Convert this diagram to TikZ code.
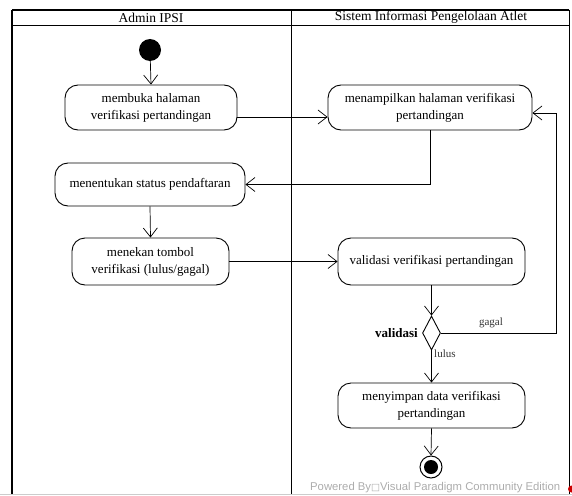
\documentclass[tikz,border=0pt]{standalone}
\usepackage{fontspec}
\setmainfont{Liberation Serif}
\newfontfamily\wmfont{Liberation Sans}
\newfontfamily\symfont{DejaVu Sans}
\usetikzlibrary{arrows.meta,shapes.geometric}

\begin{document}
\begin{tikzpicture}[x=1pt,y=-1pt,
  act/.style={draw,line width=0.9pt,rounded corners=13pt,align=center,
    font=\fontsize{13}{17}\selectfont,inner sep=0pt},
  flow/.style={draw,line width=0.7pt,
    -{Straight Barb[length=9pt,width=14pt,line width=0.7pt]}},
  lane/.style={line width=1.8pt},
  guard/.style={font=\fontsize{11}{11}\selectfont,text=black!80,inner sep=1pt},
]
\clip (0,0) rectangle (572,495);

% swimlane frame
\draw[lane] (12,10) -- (569,10);
\draw[lane] (12,10) -- (12,495);
\draw[lane] (12,25.5) -- (569,25.5);
\draw[lane] (291.5,10) -- (291.5,495);
\draw[line width=1pt] (569,10) -- (569,495);
\draw[gray!40,line width=0.8pt] (0,494) -- (572,494);

% lane titles
\node[font=\fontsize{13.5}{13.5}\selectfont] (laneA) at (151,17.5) {Admin IPSI};
\node[font=\fontsize{13.5}{13.5}\selectfont] (laneB) at (431,17.5) {Sistem Informasi Pengelolaan Atlet};

% initial and final nodes
\node[circle,fill=black,minimum size=22pt,inner sep=0pt] (start) at (150,50) {};
\node[circle,draw,line width=1pt,minimum size=22pt,inner sep=0pt,
  path picture={\fill (path picture bounding box.center) circle (7pt);}] (final) at (431,467) {};

% actions
\node[act,minimum width=172pt,minimum height=45pt] (membuka) at (151,107.5)
  {membuka halaman\\verifikasi pertandingan};
\node[act,minimum width=204pt,minimum height=45pt] (tampil) at (430,107.5)
  {menampilkan halaman verifikasi\\pertandingan};
\node[act,minimum width=190pt,minimum height=43pt] (tentukan) at (150,184.5)
  {menentukan status pendaftaran};
\node[act,minimum width=157pt,minimum height=47pt] (tekan) at (150.5,261.5)
  {menekan tombol\\verifikasi (lulus/gagal)};
\node[act,minimum width=187pt,minimum height=47pt] (validasi) at (431.5,261.5)
  {validasi verifikasi pertandingan};
\node[act,minimum width=187pt,minimum height=45pt] (simpan) at (431.5,405.5)
  {menyimpan data verifikasi\\pertandingan};

% decision
\node[diamond,draw,line width=0.9pt,aspect=0.5,minimum width=18pt,minimum height=34pt,
  inner sep=0pt] (dec) at (431.5,333) {};
\node[anchor=east,font=\bfseries\fontsize{13}{13}\selectfont,inner sep=0pt] (declbl)
  at ([xshift=-4pt]dec.west) {validasi};

% flows
\coordinate (loop) at (556,113);
\draw[flow] (start) -- (membuka.north);
\draw[flow] (membuka.east |- 0,117) -- (tampil.west |- 0,117);
\draw[flow] (tampil.south) |- (tentukan.east);
\draw[flow] (tentukan.south) -- (tekan.north);
\draw[flow] (tekan.east) -- (validasi.west);
\draw[flow] (validasi.south) -- (dec.north);
\draw[flow] (dec.east) -| (loop) -- (tampil.east |- loop);
\draw[flow] (dec.south) -- (simpan.north);
\draw[flow] (simpan.south) -- (final.north);

% guards
\node[guard] (gagal) at (491,323) {gagal};
\node[guard,anchor=west] (lulus) at (433,354) {lulus};

% tool watermark
\node[anchor=south west,inner sep=0pt,text=gray!65,
  font=\wmfont\fontsize{11.3}{11.3}\selectfont] (wm) at (310,493.5)
  {Powered By{\symfont\fontsize{9.5}{9.5}\selectfont □}Visual Paradigm Community Edition};
\fill[red!80!black] (571.5,489) circle (3.5pt);
\end{tikzpicture}
\end{document}
